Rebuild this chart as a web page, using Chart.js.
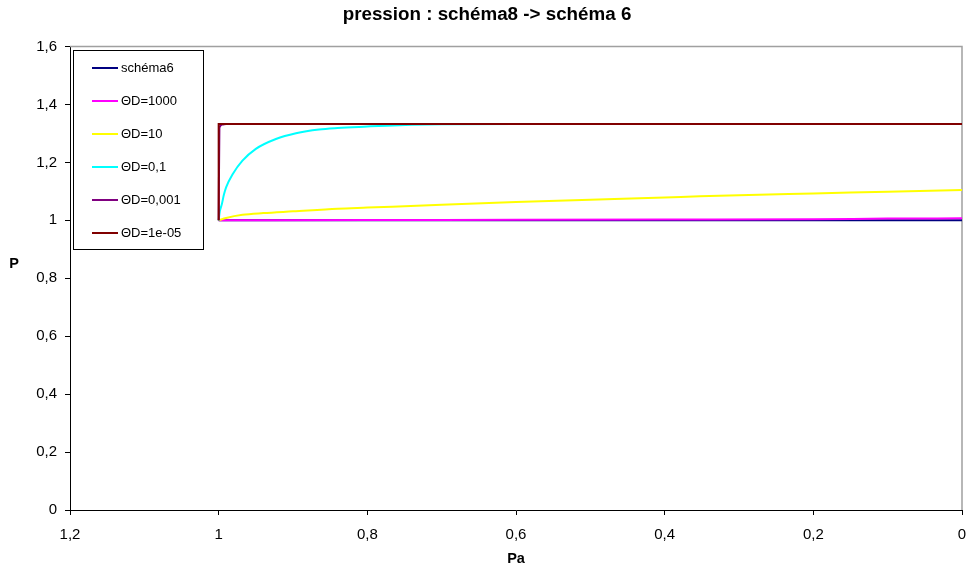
<!DOCTYPE html>
<html>
<head>
<meta charset="utf-8">
<script src="https://cdn.jsdelivr.net/npm/chart.js@4"></script>
<style>
  body { margin: 0; background: #fff; }
  #wrap { width: 968px; height: 572px; }
</style>
</head>
<body>
<div id="wrap"><canvas id="pression"></canvas></div>
<script>
// noms des séries
var seriesNames = ['schéma6', 'ΘD=1000', 'ΘD=10', 'ΘD=0,1', 'ΘD=0,001', 'ΘD=1e-05'];
var seriesColors = ['#000080', '#ff00ff', '#ffff00', '#00ffff', '#800080', '#800000'];

// valeurs (Pa -> P)
var paSchema6 = [1, 0];
var pSchema6 = [1, 1];

var paD1000 = [1, 0.8, 0.6, 0.4, 0.2, 0.1, 0];
var pD1000 = [1.000, 1.001, 1.002, 1.003, 1.004, 1.006, 1.007];

var paD10 = [1, 0.99, 0.968, 0.94, 0.9, 0.84, 0.8, 0.7, 0.6, 0.5, 0.4, 0.353, 0.3, 0.2, 0.1, 0];
var pD10 = [1.000, 1.008, 1.019, 1.025, 1.031, 1.040, 1.044, 1.054, 1.063, 1.071, 1.079, 1.083, 1.087, 1.093, 1.099, 1.105];

var paD01 = [1, 0.9985, 0.9957, 0.993, 0.990, 0.981, 0.968, 0.950, 0.923, 0.896, 0.865, 0.840, 0.800, 0.774, 0.74, 0.70, 0.6, 0.4, 0.2, 0];
var pD01 = [1.000, 1.030, 1.056, 1.088, 1.114, 1.160, 1.206, 1.247, 1.281, 1.301, 1.314, 1.319, 1.324, 1.327, 1.330, 1.332, 1.333, 1.333, 1.333, 1.333];

var paD0001 = [1, 0.999, 0.995, 0.99, 0];
var pD0001 = [1.000, 1.320, 1.331, 1.333, 1.333];

var paD1e5 = [1, 1, 0];
var pD1e5 = [1.000, 1.333, 1.333];

var paAll = [paSchema6, paD1000, paD10, paD01, paD0001, paD1e5];
var pAll = [pSchema6, pD1000, pD10, pD01, pD0001, pD1e5];

// graduations
var yTicks = [0, 0.2, 0.4, 0.6, 0.8, 1, 1.2, 1.4, 1.6];
var xTicks = [1.2, 1, 0.8, 0.6, 0.4, 0.2, 0];

function virgule(v) {
    var s = Number(v).toFixed(1);
    if (s.slice(-2) === '.0') s = s.slice(0, -2);
    return s.replace('.', ',');
}

var police = "'Liberation Sans', Arial, sans-serif";

var datasets = seriesNames.map(function(nom, i) {
    return {
        label: nom,
        data: paAll[i].map(function(x, k) { return { x: x, y: pAll[i][k] }; }),
        borderColor: seriesColors[i],
        backgroundColor: seriesColors[i],
        borderWidth: 2,
        pointRadius: 0,
        cubicInterpolationMode: 'monotone',
        order: seriesNames.length - i
    };
});

// cadre gris haut/droite de la zone de tracé
var cadre = {
    id: 'cadre',
    beforeDatasetsDraw: function(chart) {
        var a = chart.chartArea, c = chart.ctx;
        c.save();
        c.strokeStyle = '#a0a0a0';
        c.lineWidth = 1.5;
        c.beginPath();
        c.moveTo(a.left, a.top);
        c.lineTo(a.right, a.top);
        c.lineTo(a.right, a.bottom);
        c.stroke();
        c.restore();
    }
};

// titre de l'axe vertical, écrit à l'horizontale
var titreP = {
    id: 'titreP',
    afterDraw: function(chart) {
        var c = chart.ctx;
        c.save();
        c.font = 'bold 14.5px ' + police;
        c.fillStyle = '#000';
        c.textAlign = 'center';
        c.textBaseline = 'middle';
        c.fillText('P', 14, (chart.chartArea.top + chart.chartArea.bottom) / 2 - 14);
        c.restore();
    }
};

// légende encadrée dans le coin haut gauche
var legende = {
    id: 'legende',
    afterDraw: function(chart) {
        var c = chart.ctx;
        c.save();
        c.fillStyle = '#fff';
        c.fillRect(73, 50, 130, 199);
        c.strokeStyle = '#000';
        c.lineWidth = 1;
        c.strokeRect(73.5, 50.5, 130, 199);
        c.font = '13px ' + police;
        c.textBaseline = 'middle';
        chart.data.datasets.forEach(function(ds, i) {
            var y = 68 + i * 33;
            c.strokeStyle = ds.borderColor;
            c.lineWidth = 2;
            c.beginPath();
            c.moveTo(92, y);
            c.lineTo(118, y);
            c.stroke();
            c.fillStyle = '#000';
            c.fillText(ds.label, 121, y);
        });
        c.restore();
    }
};

var ctx = document.getElementById('pression').getContext('2d');
var myChart = new Chart(ctx, {
    type: 'line',
    data: { datasets: datasets },
    plugins: [cadre, legende, titreP],
    options: {
        responsive: true,
        maintainAspectRatio: false,
        animation: false,
        layout: { padding: { left: 6, right: 0, top: 0, bottom: 0 } },
        plugins: {
            legend: { display: false },
            tooltip: { enabled: false },
            title: {
                display: true,
                text: 'pression : schéma8 -> schéma 6',
                color: '#000',
                font: { family: police, size: 18.8, weight: 'bold' },
                padding: { top: 4, bottom: 20 }
            }
        },
        scales: {
            x: {
                type: 'linear',
                reverse: true,
                min: 0,
                max: 1.2,
                afterBuildTicks: function(scale) {
                    scale.ticks = xTicks.map(function(v) { return { value: v }; });
                },
                afterFit: function(scale) {
                    scale.height = 62;
                    scale.paddingLeft = 0;
                    scale.paddingRight = 6;
                },
                ticks: {
                    color: '#000',
                    padding: 11,
                    maxRotation: 0,
                    font: { family: police, size: 15 },
                    callback: function(v) { return virgule(v); }
                },
                grid: { drawOnChartArea: false, drawTicks: true, tickLength: 5, color: '#000' },
                border: { display: true, color: '#000', width: 1 },
                title: {
                    display: true,
                    text: 'Pa',
                    color: '#000',
                    font: { family: police, size: 14.5, weight: 'bold' },
                    padding: { top: 0, bottom: 4 }
                }
            },
            y: {
                min: 0,
                max: 1.6,
                afterBuildTicks: function(scale) {
                    scale.ticks = yTicks.map(function(v) { return { value: v }; });
                },
                afterFit: function(scale) { scale.width = 64; },
                ticks: {
                    color: '#000',
                    padding: 8,
                    font: { family: police, size: 15 },
                    callback: function(v) { return virgule(v); }
                },
                grid: { drawOnChartArea: false, drawTicks: true, tickLength: 5, color: '#000' },
                border: { display: true, color: '#000', width: 1 }
            }
        }
    }
});
</script>
</body>
</html>
